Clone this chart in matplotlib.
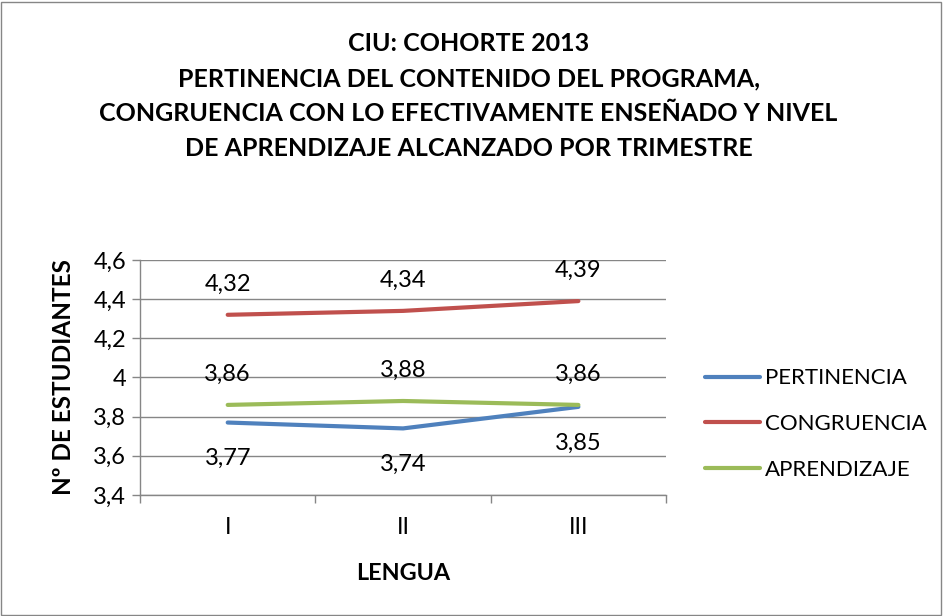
import matplotlib
matplotlib.use("Agg")
import matplotlib.pyplot as plt
from matplotlib.patches import Rectangle

plt.rcParams['font.family'] = ['Lato', 'DejaVu Sans']

categories = ["I", "II", "III"]
series_names = ["PERTINENCIA", "CONGRUENCIA", "APRENDIZAJE"]
pertinencia = [3.77, 3.74, 3.85]
congruencia = [4.32, 4.34, 4.39]
aprendizaje = [3.86, 3.88, 3.86]
yticks = [3.4, 3.6, 3.8, 4.0, 4.2, 4.4, 4.6]
ytick_labels = ["3,4", "3,6", "3,8", "4", "4,2", "4,4", "4,6"]

colors = ["#4F81BD", "#C0504D", "#9BBB59"]
label_offsets = [-26, 22, 22]  # points: below for pertinencia, above for others

fig = plt.figure(figsize=(9.43, 6.16), dpi=100)
ax = fig.add_axes([0.1485, 0.1964, 0.7063 - 0.1485, 0.578 - 0.1964])

x = list(range(len(categories)))
all_series = [pertinencia, congruencia, aprendizaje]
handles = []
for vals, name, c, off in zip(all_series, series_names, colors, label_offsets):
    ln, = ax.plot(x, vals, color=c, lw=3.0, solid_capstyle='round', label=name)
    handles.append(ln)
    for xi, v in zip(x, vals):
        ax.annotate(f"{v:.2f}".replace(".", ","), (xi, v), xytext=(0, off),
                    textcoords='offset points', ha='center', va='center',
                    fontsize=17, color='black')

ax.set_xlim(-0.5, len(categories) - 0.5)
ax.set_ylim(3.4, 4.6)
ax.set_yticks(yticks)
ax.set_yticklabels(ytick_labels, fontsize=17)
ax.set_xticks(x)
ax.set_xticklabels(categories, fontsize=17)
ax.set_xticks([-0.5, 0.5, 1.5, 2.5], minor=True)
ax.tick_params(axis='x', which='major', length=0, pad=16)
ax.tick_params(axis='x', which='minor', length=6, color='#868686', width=1)
ax.tick_params(axis='y', length=6, color='#868686', width=1, pad=4)
ax.yaxis.grid(True, color='#868686', lw=1)
ax.set_axisbelow(True)
for s in ['top', 'right']:
    ax.spines[s].set_visible(False)
for s in ['left', 'bottom']:
    ax.spines[s].set_color('#868686')
    ax.spines[s].set_linewidth(1)

ax.set_ylabel("Nº DE ESTUDIANTES", fontsize=17.5, fontweight='bold', labelpad=13)
ax.set_xlabel("LENGUA", fontsize=16.8, fontweight='bold', labelpad=18)

fig.text(0.497, 1 - 32 / 616,
         "CIU: COHORTE 2013\nPERTINENCIA DEL CONTENIDO DEL PROGRAMA,\n"
         "CONGRUENCIA CON LO EFECTIVAMENTE ENSEÑADO Y NIVEL\n"
         "DE APRENDIZAJE ALCANZADO POR TRIMESTRE",
         ha='center', va='top', fontsize=18, fontweight='bold',
         linespacing=1.64)

fig.legend(handles=handles, labels=series_names, loc='center left',
           bbox_to_anchor=(0.738, 0.3117), frameon=False, fontsize=16,
           handlelength=2.5, handletextpad=0.2, labelspacing=1.15,
           borderaxespad=0)

fig.patches.append(Rectangle((0.001, 0.002), 0.997, 0.995, transform=fig.transFigure,
                             fill=False, edgecolor='#868686', lw=1))

fig.savefig("out.png", dpi=100)
